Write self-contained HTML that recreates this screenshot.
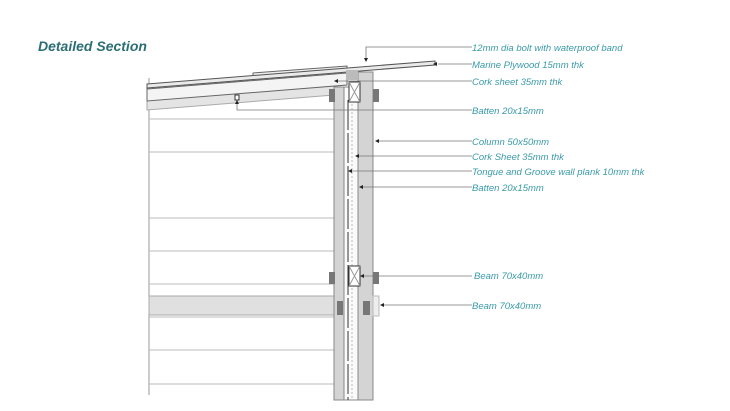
<!DOCTYPE html>
<html><head><meta charset="utf-8"><style>
body{margin:0;background:#fff;}
svg{display:block}
.l{font-family:"Liberation Sans",sans-serif;font-style:italic;font-size:9.5px;fill:#3a9aa8}
</style></head><body>
<svg width="730" height="411" viewBox="0 0 730 411" xmlns="http://www.w3.org/2000/svg">
<text x="38" y="51" font-family="Liberation Sans,sans-serif" font-weight="bold" font-style="italic" font-size="14" fill="#2b6e74">Detailed Section</text>
<!-- left wall lines -->
<line x1="149" y1="78" x2="149" y2="395" stroke="#999" stroke-width="1"/>
<g stroke="#bbb" stroke-width="1">
<line x1="149" y1="119" x2="334" y2="119"/>
<line x1="149" y1="152" x2="334" y2="152"/>
<line x1="149" y1="218" x2="334" y2="218"/>
<line x1="149" y1="251" x2="334" y2="251"/>
<line x1="149" y1="284" x2="334" y2="284"/>
<line x1="149" y1="317" x2="334" y2="317"/>
<line x1="149" y1="350" x2="334" y2="350"/>
<line x1="149" y1="384" x2="334" y2="384"/>
</g>
<!-- floor slab -->
<rect x="149" y="296" width="185" height="19" fill="#e0e0e0" stroke="#aaa"/>
<!-- roof beam -->
<polygon points="147,98 334,84 334,95 147,110" fill="#e4e4e4" stroke="#aaa"/>
<!-- cork layer -->
<polygon points="147,89 347,73 347,85 147,101" fill="#f4f4f4" stroke="#666"/>
<!-- upper overlap plywood -->
<polygon points="253,73 347,66 347,70 253,77" fill="#eee" stroke="#666"/>
<!-- plywood -->
<polygon points="147,84 435,61 435,65 147,88" fill="#eaeaea" stroke="#555"/>
<!-- columns -->
<rect x="334" y="87" width="10" height="313" fill="#d4d4d4" stroke="#888"/>
<rect x="344" y="87" width="14" height="313" fill="#fafafa" stroke="#888"/>
<line x1="348" y1="100" x2="348" y2="400" stroke="#333" stroke-dasharray="30,3"/>
<line x1="352" y1="100" x2="352" y2="400" stroke="#bbb" stroke-dasharray="2,2"/>
<rect x="358" y="72" width="15" height="328" fill="#d4d4d4" stroke="#888"/>
<rect x="346" y="70" width="12" height="10" fill="#bbb"/>
<!-- top beam -->
<rect x="349" y="82" width="11" height="20" fill="#fff" stroke="#333"/>
<path d="M349 82L360 102M360 82L349 102" stroke="#999"/>
<!-- lower beam -->
<rect x="349" y="266" width="11" height="20" fill="#fff" stroke="#333"/>
<path d="M349 266L360 286M360 266L349 286" stroke="#999"/>
<!-- bolt plates -->
<g fill="#777">
<rect x="329" y="89" width="6" height="13"/><rect x="373" y="89" width="6" height="13"/>
<rect x="329" y="272" width="6" height="12"/><rect x="373" y="272" width="6" height="12"/>
<rect x="337" y="301" width="6" height="14"/><rect x="363" y="301" width="7" height="14"/>
</g>
<rect x="373" y="296" width="6" height="20" fill="#eee" stroke="#bbb"/>
<rect x="235" y="95" width="4" height="5" fill="#fff" stroke="#333"/>
<!-- leaders -->
<g stroke="#777" stroke-width="0.8" fill="none">
<polyline points="472,47 366,47 366,60"/>
<line x1="472" y1="64" x2="438" y2="64"/>
<line x1="472" y1="81" x2="335" y2="81"/>
<polyline points="472,110 237,110 237,103"/>
<line x1="472" y1="141" x2="376" y2="141"/>
<line x1="472" y1="156" x2="356" y2="156"/>
<line x1="472" y1="171" x2="349" y2="171"/>
<line x1="472" y1="187" x2="360" y2="187"/>
<line x1="472" y1="276" x2="361" y2="276"/>
<line x1="472" y1="305" x2="381" y2="305"/>
</g>
<g fill="#222">
<path d="M364 58h4l-2 4z"/><path d="M437 62v4l-4-2z"/><path d="M338 79v4l-4-2z"/><path d="M235 104h4l-2-4z"/>
<path d="M379 139v4l-4-2z"/><path d="M359 154v4l-4-2z"/><path d="M352 169v4l-4-2z"/><path d="M363 185v4l-4-2z"/>
<path d="M364 274v4l-4-2z"/><path d="M384 303v4l-4-2z"/>
</g>
<text class="l" x="472" y="51">12mm dia bolt with waterproof band</text>
<text class="l" x="472" y="68">Marine Plywood 15mm thk</text>
<text class="l" x="472" y="85">Cork sheet 35mm thk</text>
<text class="l" x="472" y="114">Batten 20x15mm</text>
<text class="l" x="472" y="145">Column 50x50mm</text>
<text class="l" x="472" y="160">Cork Sheet 35mm thk</text>
<text class="l" x="472" y="175">Tongue and Groove wall plank 10mm thk</text>
<text class="l" x="472" y="191">Batten 20x15mm</text>
<text class="l" x="474" y="279">Beam 70x40mm</text>
<text class="l" x="472" y="309">Beam 70x40mm</text>
</svg>
</body></html>
